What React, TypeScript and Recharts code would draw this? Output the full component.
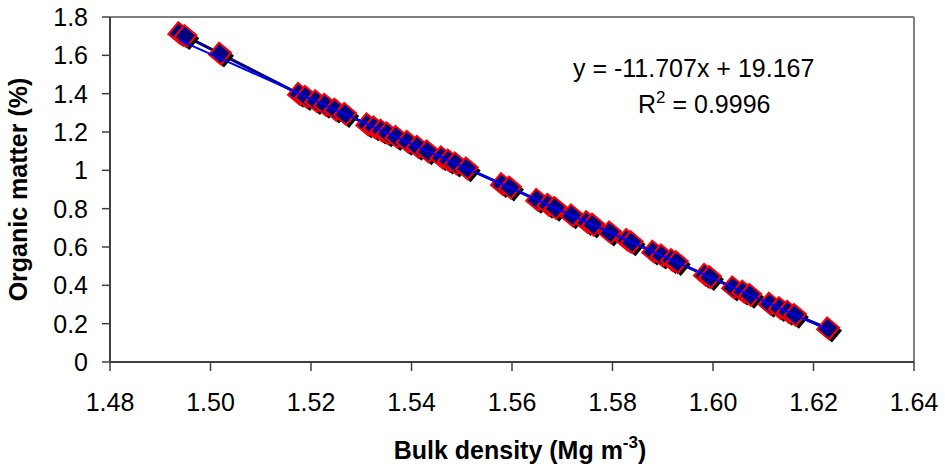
import { ScatterChart, Scatter, XAxis, YAxis, ReferenceLine, Label } from 'recharts';

// Bulk density (Mg m-3) and organic matter (%), sorted by x
const bulkDensity = [
  1.4938, 1.495, 1.5019, 1.5176, 1.519, 1.521, 1.5228, 1.5248, 1.5268, 1.5312,
  1.5326, 1.534, 1.5352, 1.537, 1.5392, 1.5412, 1.5432, 1.546, 1.5474, 1.5488,
  1.551, 1.558, 1.5596, 1.565, 1.5672, 1.5686, 1.5719, 1.5749, 1.5761, 1.5795,
  1.5829, 1.5838, 1.5881, 1.5898, 1.5918, 1.5928, 1.5984, 1.5994, 1.604, 1.606,
  1.6074, 1.6113, 1.6133, 1.6149, 1.6163, 1.6229,
];
const organicMatter = [
  1.716, 1.7, 1.609, 1.399, 1.383, 1.361, 1.342, 1.317, 1.294, 1.24,
  1.224, 1.207, 1.193, 1.174, 1.149, 1.123, 1.099, 1.068, 1.051, 1.036,
  1.01, 0.928, 0.91, 0.846, 0.82, 0.804, 0.765, 0.73, 0.717, 0.676,
  0.637, 0.625, 0.576, 0.556, 0.532, 0.521, 0.455, 0.443, 0.389, 0.367,
  0.35, 0.304, 0.281, 0.262, 0.246, 0.175,
];

const xTicks = [1.48, 1.5, 1.52, 1.54, 1.56, 1.58, 1.6, 1.62, 1.64];
const yTicks = [0, 0.2, 0.4, 0.6, 0.8, 1, 1.2, 1.4, 1.6, 1.8];

// linear trendline as shown on the chart
const trendSlope = -11.707;
const trendIntercept = 19.167;

const points = bulkDensity.map((x, i) => ({ x, y: organicMatter[i] }));
const xMin = Math.min(...bulkDensity);
const xMax = Math.max(...bulkDensity);
const trendPoints = [xMin, xMax].map(x => ({ x, y: trendSlope * x + trendIntercept }));

const FONT = '"Liberation Sans", Arial, Helvetica, sans-serif';
const FS = 25;

const Marker = (props: any) => {
  const { cx, cy } = props;
  if (cx == null || cy == null) return <g />;
  const r = 11;
  const pts = (ox: number, oy: number) =>
    [-95, -5, 85, 175]
      .map(a => {
        const t = (a * Math.PI) / 180;
        return `${cx + ox + r * Math.cos(t)},${cy + oy + r * Math.sin(t)}`;
      })
      .join(' ');
  return (
    <g>
      <polygon points={pts(3, 3)} fill="#000" />
      <polygon points={pts(0, 0)} fill="#000080" stroke="#ff0000" strokeWidth={2} />
    </g>
  );
};

const NoShape = () => <g />;

export default function App() {
  return (
    <div style={{ position: 'absolute', left: 0, top: 0, width: 945, height: 469, background: '#fff', fontFamily: FONT }}>
      <ScatterChart width={945} height={469} margin={{ top: 17, right: 31, left: 0, bottom: 0 }}>
        <XAxis
          type="number"
          dataKey="x"
          domain={[1.48, 1.64]}
          ticks={xTicks}
          tickFormatter={(v: number) => v.toFixed(2)}
          height={107}
          tickSize={9}
          tickMargin={22}
          axisLine={{ stroke: '#404040', strokeWidth: 2 }}
          tickLine={{ stroke: '#404040', strokeWidth: 1.5 }}
          tick={{ fill: '#000', fontSize: FS, fontFamily: FONT }}
        >
          <Label
            content={(p: any) => {
              const vb = p.viewBox || {};
              const cx = vb.x + vb.width / 2;
              return (
                <text x={cx + 8} y={459} textAnchor="middle" fontSize={FS} fontWeight="bold" fontFamily={FONT} fill="#000">
                  Bulk density (Mg m
                  <tspan dy={-11} fontSize={17}>-3</tspan>
                  <tspan dy={11}>)</tspan>
                </text>
              );
            }}
          />
        </XAxis>
        <YAxis
          type="number"
          dataKey="y"
          domain={[0, 1.8]}
          ticks={yTicks}
          tickFormatter={(v: number) => String(Number(v.toFixed(1)))}
          width={110}
          tickSize={8}
          tickMargin={14}
          axisLine={{ stroke: '#404040', strokeWidth: 2 }}
          tickLine={{ stroke: '#404040', strokeWidth: 1.5 }}
          tick={{ fill: '#000', fontSize: FS, fontFamily: FONT }}
        >
          <Label
            content={(p: any) => {
              const vb = p.viewBox || {};
              const cy = vb.y + vb.height / 2;
              return (
                <text
                  x={0}
                  y={0}
                  transform={`translate(27, ${cy}) rotate(-90)`}
                  textAnchor="middle"
                  fontSize={FS}
                  fontWeight="bold"
                  fontFamily={FONT}
                  fill="#000"
                >
                  Organic matter (%)
                </text>
              );
            }}
          />
        </YAxis>
        <ReferenceLine y={1.8} stroke="#808080" strokeWidth={2} />
        <ReferenceLine x={1.64} stroke="#808080" strokeWidth={2} />
        <Scatter
          data={points}
          isAnimationActive={false}
          line={{ stroke: '#000080', strokeWidth: 3 }}
          lineType="joint"
          shape={Marker}
        />
        <Scatter
          data={trendPoints}
          isAnimationActive={false}
          line={{ stroke: '#0000ff', strokeWidth: 2 }}
          lineType="joint"
          shape={NoShape}
        />
      </ScatterChart>
      <div style={{ position: 'absolute', left: 573, top: 53, fontSize: FS, lineHeight: '30px', color: '#000', whiteSpace: 'nowrap' }}>
        y = -11.707x + 19.167
      </div>
      <div style={{ position: 'absolute', left: 638, top: 89, fontSize: FS, lineHeight: '30px', color: '#000', whiteSpace: 'nowrap' }}>
        R<span style={{ fontSize: 17, position: 'relative', top: -10 }}>2</span> = 0.9996
      </div>
    </div>
  );
}
